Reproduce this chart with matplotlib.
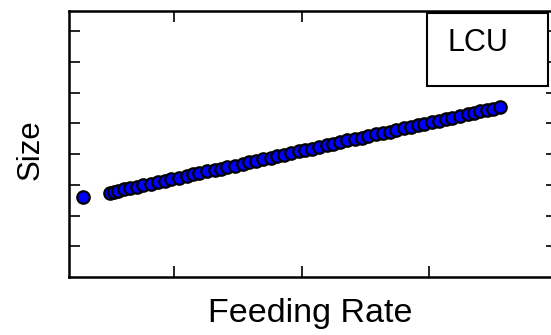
import matplotlib
matplotlib.use('Agg')
import matplotlib.pyplot as plt
from matplotlib.patches import Rectangle

plt.rcParams['font.family'] = ['Liberation Sans', 'DejaVu Sans']

# isolated first point
first_x = [0.29]
first_y = [2.59]

# main series
feed = [0.50, 0.53, 0.56, 0.61, 0.66, 0.71, 0.76, 0.82, 0.88, 0.93,
        0.98, 1.04, 1.10, 1.15, 1.20, 1.26, 1.32, 1.37, 1.42, 1.48,
        1.54, 1.59, 1.64, 1.70, 1.76, 1.81, 1.86, 1.92, 1.98, 2.03,
        2.08, 2.14, 2.20, 2.25, 2.30, 2.36, 2.42, 2.47, 2.52, 2.58,
        2.64, 2.69, 2.74, 2.80, 2.86, 2.91, 2.96, 3.02, 3.08, 3.13,
        3.18, 3.24, 3.30, 3.35, 3.40, 3.45, 3.50, 3.55]
size = [2.74, 2.77, 2.79, 2.85, 2.89, 2.92, 2.98, 3.04, 3.08, 3.13,
        3.19, 3.23, 3.28, 3.34, 3.38, 3.44, 3.48, 3.53, 3.59, 3.63,
        3.68, 3.74, 3.79, 3.83, 3.89, 3.95, 3.98, 4.03, 4.10, 4.14,
        4.17, 4.24, 4.30, 4.33, 4.38, 4.45, 4.49, 4.53, 4.58, 4.65,
        4.69, 4.73, 4.79, 4.84, 4.88, 4.94, 4.99, 5.03, 5.09, 5.15,
        5.18, 5.24, 5.30, 5.33, 5.39, 5.44, 5.47, 5.52]

fig = plt.figure(figsize=(5.51, 3.35), dpi=100)
ax = fig.add_axes([69/551, 58/335, 488/551, 266/335])

ax.scatter(first_x + feed, first_y + size, s=80, c='#0000ff',
           edgecolors='black', linewidths=1.6, zorder=3)

ax.set_xlim(0.18, 4.0)
ax.set_ylim(0, 8.66)
ax.set_xticks([1, 2, 3, 4])
ax.set_yticks([1, 2, 3, 4, 5, 6, 7, 8])
ax.tick_params(direction='in', length=8, width=1.2, top=True, right=True,
               labelbottom=False, labelleft=False)
for sp in ax.spines.values():
    sp.set_linewidth(1.8)

fig.text(310/551, 13/335, 'Feeding Rate', fontsize=24.5,
         ha='center', va='baseline')
fig.text(31/551, 1 - 150/335, 'Size', fontsize=22.5, rotation=90,
         ha='center', va='center')

# label box in the corner
fig.patches.append(Rectangle((427/551, 1 - 86/335), 121/551, 73/335,
                             transform=fig.transFigure, fill=True,
                             facecolor='white', edgecolor='black',
                             linewidth=1.5, zorder=5))
fig.text(478/551, 1 - 43/335, 'LCU', fontsize=22, ha='center', va='center',
         zorder=6)

fig.savefig('out.png', dpi=100)
